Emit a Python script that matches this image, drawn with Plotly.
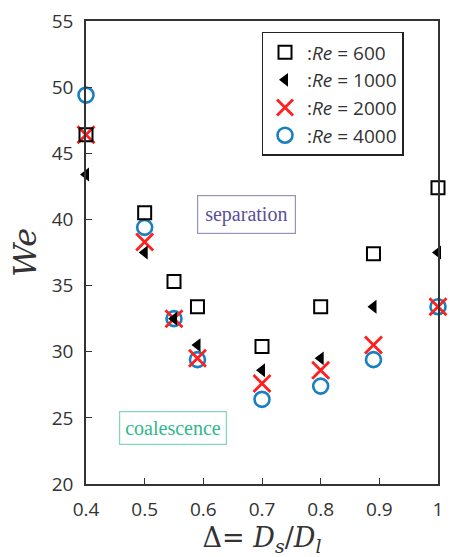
import plotly.graph_objects as go

delta = [0.4, 0.5, 0.55, 0.59, 0.7, 0.8, 0.89, 1.0]
we_re600 = [46.4, 40.5, 35.3, 33.4, 30.4, 33.4, 37.4, 42.4]
we_re1000 = [43.4, 37.5, 32.5, 30.5, 28.6, 29.5, 33.4, 37.5]
we_re2000 = [46.4, 38.3, 32.5, 29.5, 27.6, 28.6, 30.5, 33.4]
we_re4000 = [49.4, 39.4, 32.5, 29.4, 26.4, 27.4, 29.4, 33.4]
x_ticks = [0.4, 0.5, 0.6, 0.7, 0.8, 0.9, 1.0]
x_tick_labels = ["0.4", "0.5", "0.6", "0.7", "0.8", "0.9", "1"]
y_ticks = [20, 25, 30, 35, 40, 45, 50, 55]

fig = go.Figure()
fig.add_trace(go.Scatter(x=delta, y=we_re4000, mode="markers", name=":<i>Re</i> = 4000",
                         legendrank=4, legendgroup="d",
                         marker=dict(symbol="circle-open", size=15, color="#1a7fc1",
                                     line=dict(width=2.6, color="#1a7fc1")), cliponaxis=False))
fig.add_trace(go.Scatter(x=delta, y=we_re2000, mode="markers", name=":<i>Re</i> = 2000",
                         legendrank=3, legendgroup="c",
                         marker=dict(symbol="x-thin-open", size=17, color="#ff1f1f",
                                     line=dict(width=2.8, color="#ff1f1f")), cliponaxis=False))
fig.add_trace(go.Scatter(x=delta, y=we_re600, mode="markers", name=":<i>Re</i> = 600",
                         legendrank=1, legendgroup="a",
                         marker=dict(symbol="square-open", size=13, color="black",
                                     line=dict(width=2, color="black")), cliponaxis=False))
fig.add_trace(go.Scatter(x=delta, y=we_re1000, mode="markers", name=":<i>Re</i> = 1000",
                         legendrank=2, legendgroup="b",
                         marker=dict(symbol="triangle-left", size=12, color="black",
                                     line=dict(width=0)), cliponaxis=False))

fig.update_layout(
    width=451, height=557,
    margin=dict(l=86, r=8, t=12, b=73),
    paper_bgcolor="white", plot_bgcolor="white",
    font=dict(family="Open Sans", size=19, color="#333333"),
    showlegend=True,
    legend=dict(x=0.4986, y=0.9767, xanchor="left", yanchor="top",
                bordercolor="#222222", borderwidth=1.5, bgcolor="white",
                font=dict(family="Open Sans", size=19, color="#333333"),
                tracegroupgap=16, itemwidth=34,
                traceorder="normal"),
    xaxis=dict(range=[0.4, 1.0], tickvals=x_ticks, ticktext=x_tick_labels,
               ticks="inside", ticklen=6, tickcolor="#333333",
               showline=True, linecolor="#333333", linewidth=1.5, mirror=True,
               showgrid=False, zeroline=False, ticklabelstandoff=7,
               ticklabeloverflow="allow",
               title=dict(text="Δ= <i>D</i><sub><i>s</i></sub>/<i>D</i><sub><i>l</i></sub>",
                          font=dict(family="DejaVu Serif", size=27, color="#333333"),
                          standoff=8)),
    yaxis=dict(range=[20, 55], tickvals=y_ticks,
               ticks="inside", ticklen=6, tickcolor="#333333",
               showline=True, linecolor="#333333", linewidth=1.5, mirror=True,
               showgrid=False, zeroline=False, ticklabelstandoff=7,
               ticklabeloverflow="allow",
               title=dict(text="<i>We</i>",
                          font=dict(family="DejaVu Serif", size=32, color="#333333"),
                          standoff=6)),
)

fig.add_annotation(x=0.674, y=40.4, xref="x", yref="y", text="separation", showarrow=False,
                   font=dict(family="Liberation Serif", size=20, color="#5a4f9a"),
                   bordercolor="#9a90c0", borderwidth=1.2, borderpad=7, bgcolor="white")
fig.add_annotation(x=0.549, y=24.2, xref="x", yref="y", text="coalescence", showarrow=False,
                   font=dict(family="Liberation Serif", size=20, color="#2fb88c"),
                   bordercolor="#7fd8b8", borderwidth=1.2, borderpad=5, bgcolor="white")

fig.write_html("out.html", post_script="document.body.style.margin='0';",
               config={"displayModeBar": False})
